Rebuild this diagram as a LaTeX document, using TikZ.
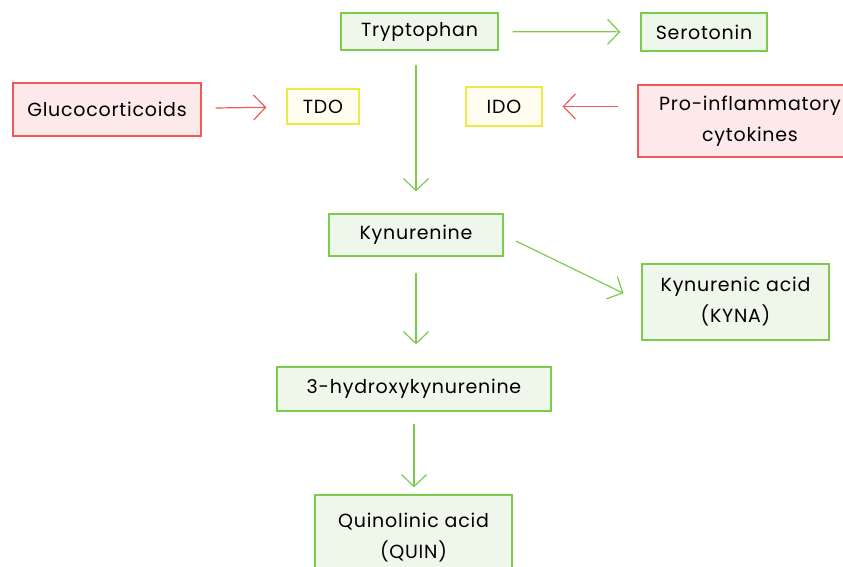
\documentclass[tikz,border=0pt]{standalone}
\usepackage{fontspec}
\setmainfont[LetterSpace=4]{Poppins}
\usetikzlibrary{arrows.meta,positioning}
\definecolor{leafline}{HTML}{7CCB4E}
\definecolor{leaffill}{HTML}{EFF6EA}
\definecolor{redline}{HTML}{EE5A55}
\definecolor{redfill}{HTML}{FDE9E9}
\definecolor{yelline}{HTML}{EEEA45}
\definecolor{yelfill}{HTML}{FEFDF0}
\tikzset{
  box/.style={draw, line width=1.2pt, inner sep=0pt, align=center,
    text=black, font=\fontsize{19}{31}\selectfont},
  greenbox/.style={box, draw=leafline, fill=leaffill},
  redbox/.style={box, draw=redline, fill=redfill},
  yellowbox/.style={box, draw=yelline, fill=yelfill},
  flow/.style={line width=1.2pt, shorten <=14pt, shorten >=20pt,
    -{Straight Barb[length=12pt,width=25pt]}},
}
\begin{document}
\begin{tikzpicture}[x=1pt,y=-1pt]
    \useasboundingbox (0,0) rectangle (843,566);
    \clip (0,0) rectangle (843,566);
    % main chain
    \node[greenbox, minimum width=157pt, minimum height=37pt] (trp) at (419.5,31.5) {Tryptophan};
    \node[greenbox, minimum width=126pt, minimum height=38pt] (sero) at (704,32) {Serotonin};
    \node[greenbox, minimum width=174pt, minimum height=42pt] (kyn) at (416,235) {Kynurenine};
    \node[greenbox, minimum width=187pt, minimum height=76pt] (kyna) at (735.5,302) {Kynurenic acid\\(KYNA)};
    \node[greenbox, minimum width=274pt, minimum height=44pt] (hk) at (414,389) {3-hydroxykynurenine};
    \node[greenbox, minimum width=197pt, minimum height=85pt] (quin) at (413.5,537.5) {Quinolinic acid\\(QUIN)};
    % enzymes and their triggers
    \node[redbox, minimum width=188pt, minimum height=53pt] (gluco) at (107,109.5) {Glucocorticoids};
    \node[yellowbox, minimum width=72pt, minimum height=35pt] (tdo) at (323,106.5) {TDO};
    \node[yellowbox, minimum width=76pt, minimum height=39pt] (ido) at (504,106.5) {IDO};
    \node[redbox, minimum width=224pt, minimum height=72pt] (cyto) at (750,121) {Pro-inflammatory\\cytokines};
    % arrows
    \draw[flow, leafline] (trp) -- (sero);
    \draw[flow, leafline, shorten >=22pt] (kyn.north |- trp.south) -- (kyn.north);
    \draw[flow, leafline] (kyn.east) -- (kyna.west);
    \draw[flow, leafline, shorten <=16pt, shorten >=22pt] (kyn.south) -- (kyn.south |- hk.north);
    \draw[flow, leafline, shorten <=12pt, shorten >=7pt] (hk.south) -- (hk.south |- quin.north);
    \draw[flow, redline] (gluco) -- (tdo);
    \draw[flow, redline, shorten <=19pt] (cyto.west |- ido) -- (ido);
\end{tikzpicture}
\end{document}
